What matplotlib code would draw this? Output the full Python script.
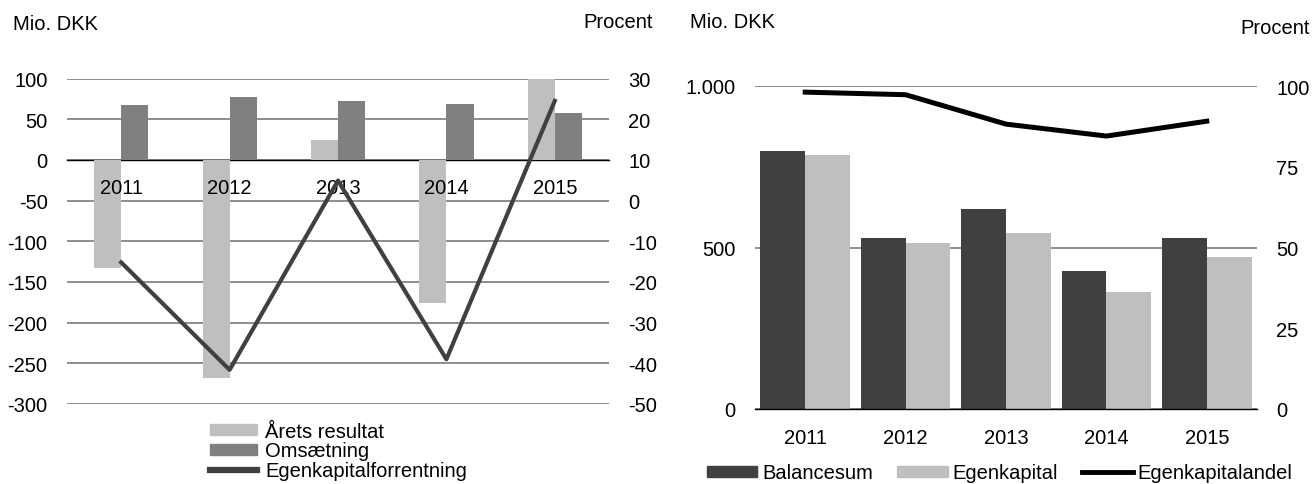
import matplotlib
matplotlib.use("Agg")
import numpy as np
import matplotlib.pyplot as plt
from matplotlib.patches import Patch
from matplotlib.lines import Line2D
from matplotlib.ticker import FuncFormatter

plt.rcParams['font.family'] = ['Liberation Sans', 'DejaVu Sans']
plt.rcParams['axes.unicode_minus'] = False
plt.rcParams['font.size'] = 14.5

years = ['2011', '2012', '2013', '2014', '2015']

# left chart
aarets_resultat = [-133, -268, 25, -176, 100]
omsaetning = [68, 77, 72, 69, 58]
ek_forrentning = [-15.2, -41.6, 4.9, -39.0, 24.5]

# right chart
balancesum = [799, 529, 619, 426, 528]
egenkapital = [785, 515, 546, 361, 471]
ek_andel = [98.1, 97.3, 88.2, 84.5, 89.1]

LIGHT = '#bfbfbf'
MID = '#808080'
DARK = '#404040'
GRID = '#868686'

W, H = 1314, 485
fig = plt.figure(figsize=(W / 100, H / 100), dpi=100)

x = np.arange(len(years))

# ---------- left chart ----------
ax = fig.add_axes([67 / W, 1 - 405 / H, 542 / W, 325.5 / H])
ax.bar(x - 0.125, aarets_resultat, width=0.25, color=LIGHT, zorder=2)
ax.bar(x + 0.125, omsaetning, width=0.25, color=MID, zorder=2)
ax.set_xlim(-0.5, 4.5)
ax.set_ylim(-300, 100)
ax.set_yticks(range(-300, 101, 50))
ax.yaxis.grid(True, color=GRID, linewidth=1.3)
ax.set_axisbelow(True)
ax.xaxis.set_zorder(5)  # year labels sit on top of the bars
for s in ['top', 'right', 'left']:
    ax.spines[s].set_visible(False)
ax.spines['bottom'].set_position(('data', 0))
ax.spines['bottom'].set_color('black')
ax.spines['bottom'].set_linewidth(1)
ax.spines['bottom'].set_zorder(1.5)
ax.set_xticks(x)
ax.set_xticklabels(years)
ax.tick_params(axis='x', length=0, pad=13)
ax.tick_params(axis='y', length=0, pad=14)

ax2 = ax.twinx()
ax2.plot(x, ek_forrentning, color=DARK, linewidth=3)
ax2.set_ylim(-50, 30)
ax2.set_yticks(range(-50, 31, 10))
ax2.tick_params(axis='y', length=0, pad=14)
for s in ax2.spines.values():
    s.set_visible(False)

fig.text(13 / W, 1 - 24 / H, 'Mio. DKK', ha='left', va='center')
fig.text(618 / W, 1 - 23 / H, 'Procent', ha='center', va='center')

h1 = [Patch(color=LIGHT), Patch(color=MID), Line2D([], [], color=DARK, linewidth=4.5)]
fig.legend(h1, ['Årets resultat', 'Omsætning', 'Egenkapitalforrentning'],
           loc='center left', bbox_to_anchor=(210 / W, 1 - 452 / H),
           frameon=False, borderpad=0, borderaxespad=0, labelspacing=0.04,
           handlelength=2.35, handleheight=0.45, handletextpad=0.4)

# ---------- right chart ----------
bx = fig.add_axes([755 / W, 1 - 410 / H, 502 / W, 323 / H])
bx.bar(x - 0.223, balancesum, width=0.446, color=DARK, zorder=2)
bx.bar(x + 0.223, egenkapital, width=0.446, color=LIGHT, zorder=2)
bx.set_xlim(-0.5, 4.5)
bx.set_ylim(0, 1000)
bx.set_yticks([0, 500, 1000])
bx.yaxis.set_major_formatter(FuncFormatter(lambda v, p: f'{v:,.0f}'.replace(',', '.')))
bx.yaxis.grid(True, color=GRID, linewidth=1.3)
bx.set_axisbelow(True)
for s in ['top', 'right', 'left']:
    bx.spines[s].set_visible(False)
bx.spines['bottom'].set_color('black')
bx.spines['bottom'].set_linewidth(1)
bx.set_xticks(x)
bx.set_xticklabels(years)
bx.tick_params(axis='x', length=0, pad=14)
bx.tick_params(axis='y', length=0, pad=14)

bx2 = bx.twinx()
bx2.plot(x, ek_andel, color='black', linewidth=3.6)
bx2.set_ylim(0, 100)
bx2.set_yticks([0, 25, 50, 75, 100])
bx2.tick_params(axis='y', length=0, pad=14)
for s in bx2.spines.values():
    s.set_visible(False)

fig.text(690 / W, 1 - 22 / H, 'Mio. DKK', ha='left', va='center')
fig.text(1275 / W, 1 - 28 / H, 'Procent', ha='center', va='center')

h2 = [Patch(color=DARK), Patch(color=LIGHT), Line2D([], [], color='black', linewidth=3.5)]
fig.legend(h2, ['Balancesum', 'Egenkapital', 'Egenkapitalandel'],
           loc='center left', bbox_to_anchor=(707 / W, 1 - 474 / H), ncol=3,
           frameon=False, borderpad=0, borderaxespad=0,
           handlelength=2.5, handleheight=0.5, handletextpad=0.25, columnspacing=1.2)

fig.savefig('out.png', dpi=100)
